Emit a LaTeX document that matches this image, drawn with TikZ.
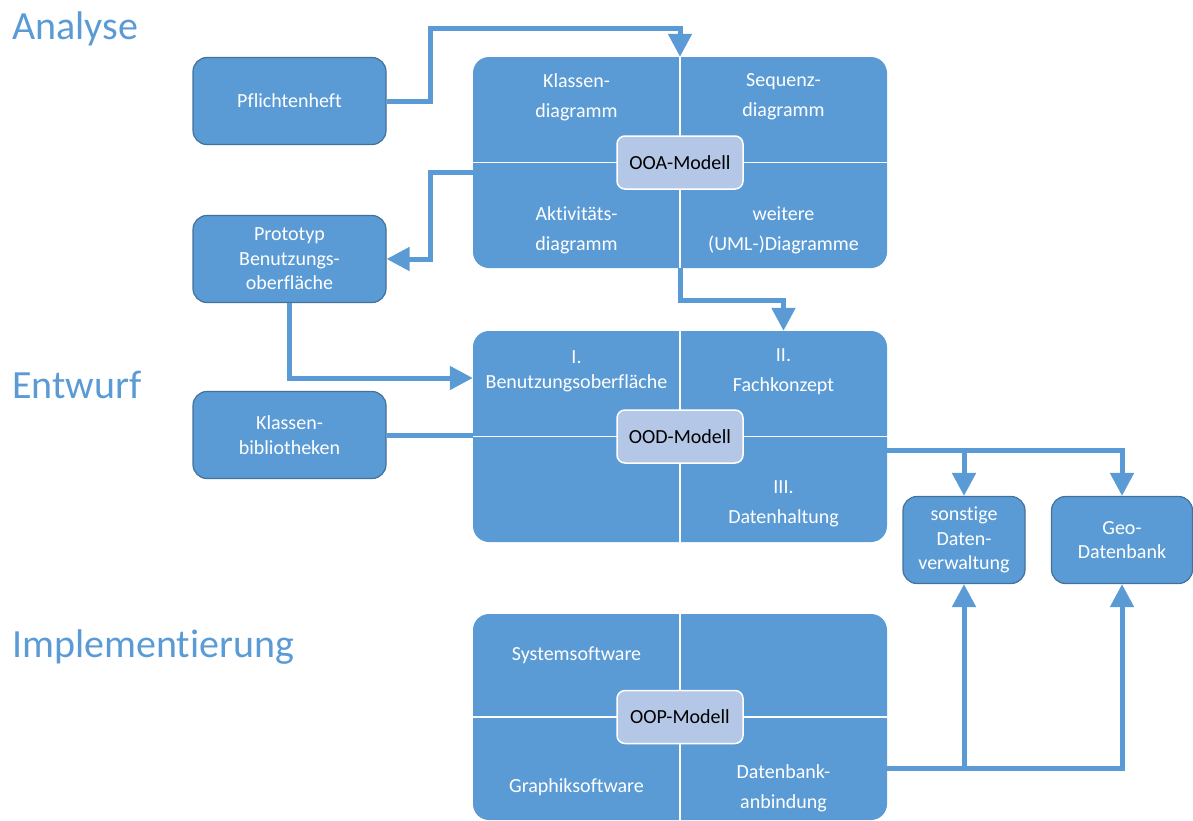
\documentclass[tikz,border=0pt]{standalone}
\usepackage{fontspec}
\setmainfont[Ligatures=NoCommon]{Carlito}
\usetikzlibrary{arrows.meta,positioning}

\definecolor{oblue}{HTML}{5B9BD5}
\definecolor{olight}{HTML}{B4C7E7}
\definecolor{oborder}{HTML}{41719C}

\tikzset{
  phase/.style={anchor=base west,text=oblue,inner sep=0pt,font=\fontsize{40}{48}\selectfont},
  block/.style={fill=oblue,rounded corners=16pt,minimum width=414pt,minimum height=211pt,inner sep=0pt},
  modell/.style={draw=white,line width=1.5pt,fill=olight,rounded corners=8pt,minimum width=126pt,minimum height=53pt,inner sep=0pt,font=\fontsize{20}{24}\selectfont},
  part/.style={text=white,align=center,font=\fontsize{20}{30}\selectfont},
  doc/.style={draw=oborder,line width=1.2pt,fill=oblue,rounded corners=14pt,minimum width=193pt,minimum height=87pt,text=white,align=center,font=\fontsize{20}{24.5}\selectfont},
  flow/.style={draw=oblue,line width=5pt,-{Triangle[length=23pt,width=23pt]}},
  link/.style={draw=oblue,line width=5pt},
  divider/.style={draw=white,line width=1.5pt}
}

\begin{document}
\begin{tikzpicture}[x=1pt,y=-1pt]
  \useasboundingbox (0,0) rectangle (1193,820);

  \node[phase] (analyse) at (12,39) {Analyse};
  \node[phase] (entwurf) at (12,398) {Entwurf};
  \node[phase] (impl) at (12,657) {Implementierung};

  \node[doc] (pflicht) at (289.5,101) {Pflichtenheft};
  \node[doc] (proto) at (289.5,259) {Prototyp\\Benutzungs-\\oberfläche};
  \node[doc] (kbib) at (289.5,435) {Klassen-\\bibliotheken};
  \node[doc,minimum width=122pt] (sonst) at (964,540) {sonstige\\Daten-\\verwaltung};
  \node[doc,minimum width=141pt] (geo) at (1122,540) {Geo-\\Datenbank};

  % OOA
  \node[block] (ooa) at (680,162.5) {};
  \draw[divider] (ooa.north) -- (ooa.south);
  \draw[divider] (ooa.west) -- (ooa.east);
  \node[part] (ooa klassen) at (576.5,97) {Klassen-\\diagramm};
  \node[part] (ooa sequenz) at (783.5,97) {Sequenz-\\diagramm};
  \node[part] (ooa aktiv) at (576.5,230) {Aktivitäts-\\diagramm};
  \node[part] (ooa weitere) at (783.5,230) {weitere\\(UML-)Diagramme};
  \node[modell] (ooa modell) at (ooa.center) {OOA-Modell};

  % OOD
  \node[block] (ood) at (680,436.5) {};
  \draw[divider] (ood.north) -- (ood.south);
  \draw[divider] (ood.west) -- (ood.east);
  \node[part] (ood ui) at (576.5,371) {I.\\[-5pt]Benutzungsoberfläche};
  \node[part] (ood fach) at (783.5,372) {II.\\Fachkonzept};
  \node[part] (ood daten) at (783.5,504) {III.\\Datenhaltung};
  \node[modell] (ood modell) at (ood.center) {OOD-Modell};

  % OOP
  \node[block,minimum height=206pt] (oop) at (680,717) {};
  \draw[divider] (oop.north) -- (oop.south);
  \draw[divider] (oop.west) -- (oop.east);
  \node[part] (oop system) at (576.5,655) {Systemsoftware};
  \node[part] (oop grafik) at (576.5,787) {Graphiksoftware};
  \node[part] (oop db) at (783.5,788) {Datenbank-\\anbindung};
  \node[modell] (oop modell) at (oop.center) {OOP-Modell};

  % connectors
  \coordinate (k1) at (430,28);
  \coordinate (k2) at (430,259);
  \draw[flow] (pflicht.east) -| (k1) -| (ooa.north);
  \draw[flow] (ooa.west |- 0,172) -| (k2) -- (proto.east);
  \draw[flow] (ooa.south) -- ++(0,32) -| (ood.north -| ood fach);
  \draw[flow] (proto.south) |- (ood.west |- 0,378);
  \draw[link] (kbib.east) -- (kbib.east -| ood.west);
  \draw[flow] (ood.east |- 0,450) -| (sonst.north);
  \draw[flow] (ood.east |- 0,450) -| (geo.north);
  \draw[flow] (oop.east |- 0,768) -| (sonst.south);
  \draw[flow] (oop.east |- 0,768) -| (geo.south);
\end{tikzpicture}
\end{document}
